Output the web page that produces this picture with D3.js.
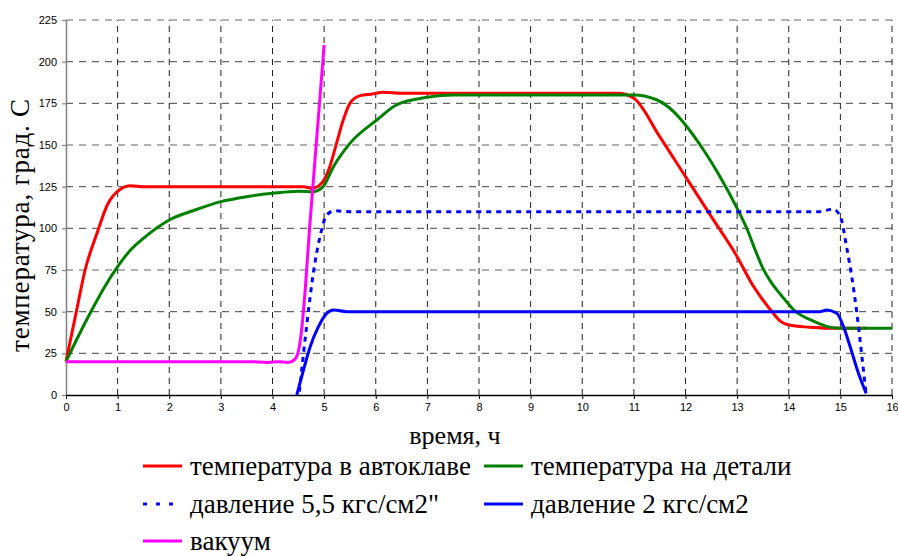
<!DOCTYPE html>
<html>
<head>
<meta charset="utf-8">
<script src="https://cdn.jsdelivr.net/npm/d3@7"></script>
<style>
  html, body { margin: 0; padding: 0; background: #fff; }
  svg { display: block; }
</style>
</head>
<body>
<svg id="chart" width="898" height="556"></svg>
<script>
// ---- data ----
const xTicks = [0,1,2,3,4,5,6,7,8,9,10,11,12,13,14,15,16];
const yTicks = [0,25,50,75,100,125,150,175,200,225];

const timeRed = [0,0.2,0.37,0.6,0.8,1.05,1.25,1.5,4.6,4.77,4.95,5.11,5.24,5.37,5.5,5.7,5.9,6.15,6.5,10.7,11.0,11.5,12.0,12.5,13.0,13.3,13.5,13.7,13.85,14.0,14.4,15.0,15.5];
const valRed  = [20,50,75,97,114,123.4,125.6,125,125,124,127,137,151,165,175,179.6,180.5,181.6,181,181,178,155,131,107,83,66,57,49,44,42,40.7,40,40];

const timeGreen = [0,0.25,0.5,0.75,1.0,1.25,1.5,1.75,2.0,2.5,3.0,3.5,4.0,4.5,4.79,4.98,5.18,5.5,6.02,6.4,7.0,7.5,10.5,11.0,11.45,11.77,12.0,12.35,12.67,13.0,13.2,13.35,13.5,13.65,13.85,14.1,14.5,14.75,15.0,16.0];
const valGreen  = [20,36,51,65,77,87,94,100,105,111,116,119,121,122.3,122,125,137,151,165,174,178.6,180,180,180,177,170,162,147,131,112,99,87,76,68,60,51,44,41,40,40];

const timeP55 = [4.52,4.66,4.79,4.92,5.05,5.2,5.5,14.6,14.86,15.0,15.12,15.22,15.32,15.41,15.5];
const valP55  = [2,41,73,95,108,110.5,110,110,111.5,107,89,71,49,25,0];

const timeP2 = [4.47,4.6,4.73,4.89,5.05,5.18,5.44,14.6,14.73,14.93,15.06,15.19,15.35,15.5];
const valP2  = [0,15,29,41,49,51,50,50,51,49,41,29,13,1];

const timeVac = [0,3.6,3.9,4.1,4.3,4.42,4.5,4.56,4.62,4.72,5.0];
const valVac  = [20,20,19.5,20,19.5,21,26,38,58,101,210];

const seriesNames = ["температура в автоклаве","температура на детали","давление 5,5 кгс/см2\"","давление 2 кгс/см2","вакуум"];
const xTitle = "время, ч";
const yTitle = "температура, град. С";

// ---- drawing ----
const SERIF = "font-family:'Liberation Serif','Times New Roman',serif";
const SANS = "font-family:'Liberation Sans',Arial,sans-serif";
const svg = d3.select("#chart");
const x = d3.scaleLinear().domain([0,16]).range([66,892]);
const y = d3.scaleLinear().domain([0,225]).range([395,20]);

const series = [
  {t: timeRed,   v: valRed,   color: "#ff0000", dash: null},
  {t: timeGreen, v: valGreen, color: "#008000", dash: null},
  {t: timeP55,   v: valP55,   color: "#0000ff", dash: "5,5"},
  {t: timeP2,    v: valP2,    color: "#0000ff", dash: null},
  {t: timeVac,   v: valVac,   color: "#ff00ff", dash: null}
];

// grid
const g = svg.append("g");
g.selectAll("line.hg").data(yTicks.filter(d => d > 0)).enter().append("line")
  .attr("x1", x(0)).attr("x2", x(16)).attr("y1", d => y(d)).attr("y2", d => y(d))
  .attr("stroke", "#666").attr("stroke-width", 1.2).attr("stroke-dasharray", "7,6");
g.selectAll("line.vg").data(xTicks.filter(d => d > 0)).enter().append("line")
  .attr("x1", d => x(d)).attr("x2", d => x(d)).attr("y1", y(0)).attr("y2", y(225))
  .attr("stroke", "#222").attr("stroke-width", 1).attr("stroke-dasharray", "6,5");

// axes
const yAxis = svg.append("g").attr("transform", `translate(${x(0)},0)`)
  .call(d3.axisLeft(y).tickValues(yTicks).tickSize(4).tickPadding(5).tickSizeOuter(0));
yAxis.select(".domain").attr("stroke", "#808080").attr("stroke-width", 1.5);
yAxis.selectAll(".tick line").attr("stroke", "#808080").attr("stroke-width", 1.2);
yAxis.selectAll("text").attr("style", SANS + ";font-size:11px").attr("fill", "#000");

const xAxis = svg.append("g").attr("transform", `translate(0,${y(0)})`)
  .call(d3.axisBottom(x).tickValues(xTicks).tickSize(4).tickPadding(4).tickSizeOuter(0));
xAxis.select(".domain").attr("stroke", "#000").attr("stroke-width", 1.5);
xAxis.selectAll(".tick line").attr("stroke", "#000").attr("stroke-width", 1);
xAxis.selectAll("text").attr("style", SANS + ";font-size:11px").attr("fill", "#000");

// lines
const line = d3.line().x(d => x(d[0])).y(d => y(d[1])).curve(d3.curveMonotoneX);
series.forEach(s => {
  const pts = s.t.map((t, i) => [t, s.v[i]]);
  svg.append("path").attr("d", line(pts)).attr("fill", "none")
    .attr("stroke", s.color).attr("stroke-width", 3)
    .attr("stroke-dasharray", s.dash)
    .attr("stroke-linejoin", "round");
});

// titles
svg.append("text").attr("style", SERIF + ";font-size:26px").attr("x", 455).attr("y", 444)
  .attr("text-anchor", "middle").text(xTitle);
svg.append("text").attr("style", SERIF + ";font-size:27px;letter-spacing:0.8px")
  .attr("transform", "translate(29,225) rotate(-90)").attr("text-anchor", "middle").text(yTitle);

// legend
const legPos = [[143,466],[484,466],[143,504],[484,504],[143,541]];
series.forEach((s, i) => {
  const [lx, ly] = legPos[i];
  svg.append("line").attr("x1", lx).attr("x2", lx + 39).attr("y1", ly).attr("y2", ly)
    .attr("stroke", s.color).attr("stroke-width", 3)
    .attr("stroke-dasharray", s.dash ? "4,9" : null);
  svg.append("text").attr("style", SERIF + ";font-size:27px").attr("x", lx + 47).attr("y", ly + 9)
    .text(seriesNames[i]);
});
</script>
</body>
</html>
